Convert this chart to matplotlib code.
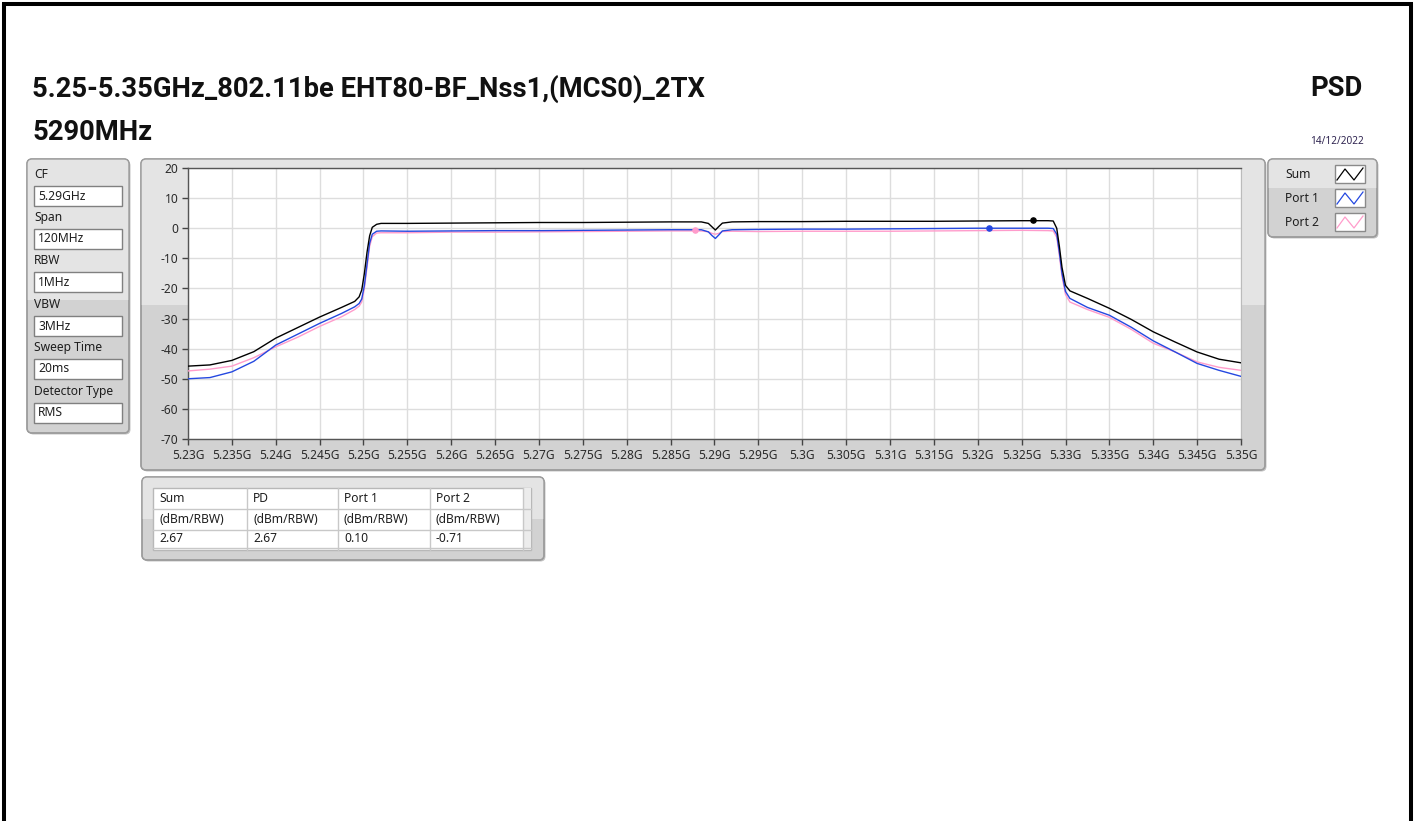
import matplotlib
matplotlib.use('Agg')
import matplotlib.pyplot as plt
from matplotlib.patches import FancyBboxPatch, Rectangle

# ---------------- data ----------------
title_text = "5.25-5.35GHz_802.11be EHT80-BF_Nss1,(MCS0)_2TX"
subtitle_text = "5290MHz"
right_title = "PSD"
date_text = "14/12/2022"

setting_labels = ["CF", "Span", "RBW", "VBW", "Sweep Time", "Detector Type"]
setting_values = ["5.29GHz", "120MHz", "1MHz", "3MHz", "20ms", "RMS"]

series_names = ["Sum", "Port 1", "Port 2"]

freq_ghz = [5.2300, 5.2325, 5.2350, 5.2375, 5.2400, 5.2425, 5.2450, 5.2475, 5.2490, 5.2495,
            5.2498, 5.2501, 5.2504, 5.2507, 5.2510, 5.2515, 5.2520, 5.2550, 5.2600, 5.2650,
            5.2700, 5.2750, 5.2800, 5.2850, 5.2885, 5.2893, 5.2897, 5.2901, 5.2905, 5.2909,
            5.2920, 5.2950, 5.3000, 5.3050, 5.3100, 5.3150, 5.3200, 5.3250, 5.3280, 5.3286,
            5.3290, 5.3293, 5.3296, 5.3300, 5.3305, 5.3325, 5.3350, 5.3375, 5.3400, 5.3425,
            5.3450, 5.3475, 5.3500]

sum_dbm = [-45.8, -45.4, -43.9, -41.0, -36.5, -33.0, -29.5, -26.3, -24.3, -22.8,
           -20.5, -15.0, -8.0, -2.5, 0.3, 1.3, 1.6, 1.6, 1.7, 1.8,
           1.9, 1.9, 2.0, 2.1, 2.1, 1.6, 0.5, -0.6, 0.6, 1.7,
           2.1, 2.2, 2.2, 2.3, 2.3, 2.3, 2.4, 2.5, 2.5, 2.4,
           0.0, -6.0, -13.0, -19.0, -20.8, -23.3, -26.6, -30.3, -34.4, -37.8,
           -41.1, -43.5, -44.7]

port1_dbm = [-50.0, -49.6, -47.7, -44.2, -38.8, -35.2, -31.6, -28.3, -26.1, -25.0,
             -23.5, -19.0, -12.0, -5.0, -2.0, -1.0, -0.9, -1.0, -0.9, -0.8,
             -0.8, -0.7, -0.6, -0.5, -0.5, -1.2, -2.4, -3.4, -2.2, -0.9,
             -0.5, -0.4, -0.3, -0.3, -0.2, -0.1, 0.0, 0.0, 0.0, -0.1,
             -2.0, -8.0, -15.0, -21.0, -23.3, -26.3, -28.9, -32.9, -37.4, -41.1,
             -44.9, -47.2, -49.2]

port2_dbm = [-47.4, -46.8, -45.8, -43.0, -39.4, -36.2, -32.6, -29.4, -27.0, -25.9,
             -24.5, -20.0, -13.0, -6.0, -2.8, -1.6, -1.5, -1.5, -1.3, -1.3,
             -1.2, -1.1, -1.0, -0.9, -0.9, -1.2, -1.7, -2.0, -1.7, -1.1,
             -1.0, -1.1, -1.0, -1.0, -1.0, -0.9, -0.8, -0.7, -0.8, -0.9,
             -3.0, -9.0, -16.0, -22.0, -24.5, -27.0, -29.6, -33.6, -38.2, -41.1,
             -44.4, -46.2, -47.2]

marker_freq = [5.3263, 5.3213, 5.2878]
marker_dbm = [2.67, 0.10, -0.71]

x_ticks = [5.230, 5.235, 5.240, 5.245, 5.250, 5.255, 5.260, 5.265, 5.270, 5.275,
           5.280, 5.285, 5.290, 5.295, 5.300, 5.305, 5.310, 5.315, 5.320, 5.325,
           5.330, 5.335, 5.340, 5.345, 5.350]
x_tick_labels = ["5.23G", "5.235G", "5.24G", "5.245G", "5.25G", "5.255G", "5.26G", "5.265G",
                 "5.27G", "5.275G", "5.28G", "5.285G", "5.29G", "5.295G", "5.3G", "5.305G",
                 "5.31G", "5.315G", "5.32G", "5.325G", "5.33G", "5.335G", "5.34G", "5.345G",
                 "5.35G"]
y_ticks = [20, 10, 0, -10, -20, -30, -40, -50, -60, -70]
y_tick_labels = ["20", "10", "0", "-10", "-20", "-30", "-40", "-50", "-60", "-70"]

table_headers = ["Sum", "PD", "Port 1", "Port 2"]
table_units = ["(dBm/RBW)", "(dBm/RBW)", "(dBm/RBW)", "(dBm/RBW)"]
table_values = ["2.67", "2.67", "0.10", "-0.71"]

# ---------------- styling ----------------
C_SUM = "#000000"
C_P1 = "#2448e0"
C_P2 = "#ff9ccb"
UI = ["Noto Sans", "DejaVu Sans"]
TITLE_FONT = ["Roboto", "DejaVu Sans"]
TXT = "#1e1e1e"
UI_SIZE = 8.7

W, H = 1415, 821
fig = plt.figure(figsize=(W / 100, H / 100), dpi=100)
fig.patch.set_facecolor("white")
bg = fig.add_axes([0, 0, 1, 1], zorder=0)
bg.set_xlim(0, W)
bg.set_ylim(H, 0)
bg.axis("off")


def panel(x0, y0, x1, y1, split, light="#e4e4e4", dark="#d2d2d2"):
    shadow = FancyBboxPatch((x0 + 1.5, y0 + 1.5), x1 - x0, y1 - y0,
                            boxstyle="round,pad=0,rounding_size=5",
                            fc="#c4c4c4", ec="none", zorder=0.9)
    bg.add_patch(shadow)
    box = FancyBboxPatch((x0, y0), x1 - x0, y1 - y0,
                         boxstyle="round,pad=0,rounding_size=5",
                         fc=dark, ec="#9c9c9c", lw=1.0, zorder=1)
    bg.add_patch(box)
    top = Rectangle((x0, y0), x1 - x0, split - y0, fc=light, ec="none", zorder=1.05)
    bg.add_patch(top)
    top.set_clip_path(box)
    edge = FancyBboxPatch((x0, y0), x1 - x0, y1 - y0,
                          boxstyle="round,pad=0,rounding_size=5",
                          fc="none", ec="#9c9c9c", lw=1.0, zorder=1.1)
    bg.add_patch(edge)


# outer black frame
bg.plot([3.5, 3.5], [3, H], color="black", lw=2.9, solid_capstyle="butt", zorder=5)
bg.plot([1410.5, 1410.5], [3, H], color="black", lw=2.9, solid_capstyle="butt", zorder=5)
bg.plot([1.5, 1412.5], [4.5, 4.5], color="black", lw=2.9, solid_capstyle="butt", zorder=5)

# titles
bg.text(32, 89, title_text, fontsize=19.7, fontweight="bold", family=TITLE_FONT,
        va="center", ha="left", color="#111111")
bg.text(32, 132, subtitle_text, fontsize=19.7, fontweight="bold", family=TITLE_FONT,
        va="center", ha="left", color="#111111")
bg.text(1362, 89, right_title, fontsize=19.7, fontweight="bold", family=TITLE_FONT,
        va="center", ha="right", color="#111111")
bg.text(1364, 142, date_text, fontsize=7.2, family=UI, va="center", ha="right",
        color="#2f2450")

# left settings panel
panel(27, 159, 129, 433, 300)
label_y = [174, 218, 261, 304, 348, 391]
box_y = [186, 229, 272, 316, 359, 403]
for lab, val, ly, by in zip(setting_labels, setting_values, label_y, box_y):
    bg.text(34, ly, lab, fontsize=UI_SIZE, family=UI, va="center", ha="left", color=TXT, zorder=3)
    bg.add_patch(Rectangle((34, by), 88, 20, fc="white", ec="#808080", lw=1.0, zorder=3))
    bg.text(38, by + 10, val, fontsize=UI_SIZE, family=UI, va="center", ha="left", color=TXT, zorder=4)

# graph panel
panel(141, 159, 1265, 470, 305)

# legend panel
panel(1268, 159, 1377, 237, 188)
leg_y = [174, 198, 222]
leg_cols = [C_SUM, C_P1, C_P2]
for name, ly, col in zip(series_names, leg_y, leg_cols):
    bg.text(1285, ly, name, fontsize=UI_SIZE, family=UI, va="center", ha="left", color=TXT, zorder=3)
    bx0, by0 = 1335, ly - 9
    bg.add_patch(Rectangle((bx0, by0), 30, 18, fc="white", ec="#8a8a8a", lw=1.0, zorder=3))
    bg.plot([bx0 + 2, bx0 + 10, bx0 + 19, bx0 + 28],
            [by0 + 15, by0 + 4, by0 + 15, by0 + 3], color=col, lw=0.9, zorder=4)

# results table panel
panel(142, 477, 544, 560, 519)
bg.add_patch(Rectangle((153, 488), 378, 62, fc="white", ec="#b8b8b8", lw=1.0, zorder=3))
bg.add_patch(Rectangle((523, 488), 8, 62, fc="#ececec", ec="none", zorder=3.1))
col_x = [153, 247, 338, 430, 523]
for cx in col_x[1:]:
    bg.plot([cx, cx], [488, 550], color="#c8c8c8", lw=1.0, zorder=3.2)
for ry in [509, 530, 548]:
    bg.plot([153, 531], [ry, ry], color="#c8c8c8", lw=1.0, zorder=3.2)
for i in range(4):
    tx = col_x[i] + 6
    bg.text(tx, 498, table_headers[i], fontsize=UI_SIZE, family=UI, va="center", ha="left", color=TXT, zorder=4)
    bg.text(tx, 519.5, table_units[i], fontsize=UI_SIZE, family=UI, va="center", ha="left", color=TXT, zorder=4)
    bg.text(tx, 538.5, table_values[i], fontsize=UI_SIZE, family=UI, va="center", ha="left", color=TXT, zorder=4)

# ---------------- main plot ----------------
ax = fig.add_axes([188 / W, 1 - 439 / H, (1241 - 188) / W, (439 - 168) / H], zorder=2)
ax.set_facecolor("white")
ax.plot(freq_ghz, port2_dbm, color=C_P2, lw=1.0, zorder=3)
ax.plot(freq_ghz, port1_dbm, color=C_P1, lw=1.0, zorder=4)
ax.plot(freq_ghz, sum_dbm, color=C_SUM, lw=1.0, zorder=5)
ax.scatter(marker_freq[0:1], marker_dbm[0:1], s=14, color=C_SUM, zorder=6)
ax.scatter(marker_freq[1:2], marker_dbm[1:2], s=14, color=C_P1, zorder=6)
ax.scatter(marker_freq[2:3], marker_dbm[2:3], s=14, color=C_P2, zorder=6)

ax.set_xlim(5.23, 5.35)
ax.set_ylim(-70, 20)
ax.set_xticks(x_ticks)
ax.set_xticklabels(x_tick_labels)
ax.set_yticks(y_ticks)
ax.set_yticklabels(y_tick_labels)
ax.grid(True, color="#dddddd", lw=1.0)
ax.set_axisbelow(True)
ax.tick_params(axis="both", direction="out", length=4, width=1, color="#444444",
               labelsize=8.6, labelcolor="#2a2a2a", pad=3)
for lab in ax.get_xticklabels() + ax.get_yticklabels():
    lab.set_family(UI)
for side in ["left", "bottom", "top"]:
    ax.spines[side].set_color("#555555")
    ax.spines[side].set_linewidth(1.0)
ax.spines["right"].set_color("#bbbbbb")

fig.savefig("out.png", dpi=100, facecolor="white")
